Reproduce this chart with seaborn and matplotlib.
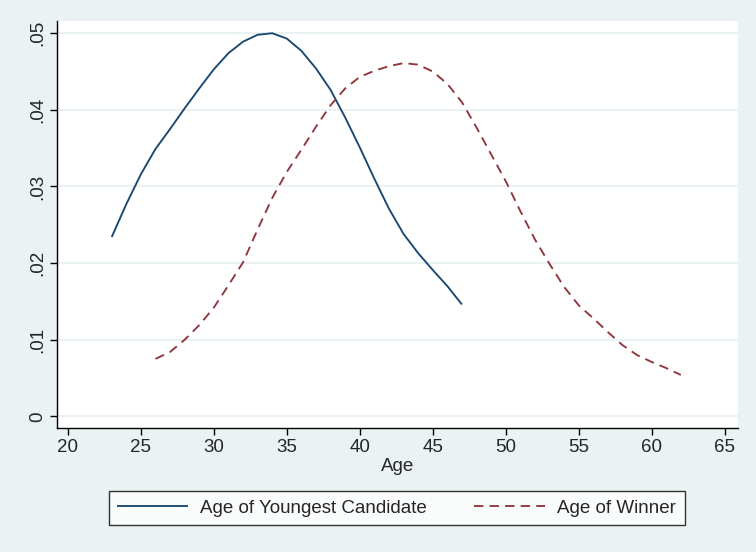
import numpy as np
import pandas as pd
import matplotlib
matplotlib.use("Agg")
import matplotlib.pyplot as plt
import seaborn as sns

# kernel density estimates
age_youngest = [23, 24, 25, 26, 27, 28, 29, 30, 31, 32, 33, 34, 35,
                36, 37, 38, 39, 40, 41, 42, 43, 44, 45, 46, 47]
dens_youngest = [.0234, .0277, .0316, .0349, .0375, .0402, .0428, .0453, .0474,
                 .0489, .0498, .0500, .0493, .0477, .0454, .0426, .0390, .0351,
                 .0310, .0271, .0238, .0213, .0191, .0170, .0146]

age_winner = [26, 27, 28, 29, 30, 31, 32, 33, 34, 35, 36, 37, 38, 39, 40, 41,
              42, 43, 44, 45, 46, 47, 48, 49, 50, 51, 52, 53, 54, 55, 56, 57,
              58, 59, 60, 61, 62]
dens_winner = [.0075, .0084, .0100, .0119, .0142, .0171, .0201, .0244, .0285,
               .0319, .0348, .0378, .0406, .0428, .0443, .0451, .0457, .0461,
               .0459, .0450, .0434, .0410, .0377, .0342, .0307, .0268, .0231,
               .0199, .0169, .0145, .0128, .0110, .0093, .0080, .0071, .0063,
               .0054]

x_ticks = [20, 25, 30, 35, 40, 45, 50, 55, 60, 65]
y_ticks = [0, .01, .02, .03, .04, .05]
y_labels = ["0", ".01", ".02", ".03", ".04", ".05"]

BG = "#EAF2F3"
NAVY = "#1A476F"
MAROON = "#90353B"

sns.set_style("white")
plt.rcParams["font.family"] = ["Liberation Sans", "DejaVu Sans"]

df = pd.concat([
    pd.DataFrame({"age": age_youngest, "density": dens_youngest,
                  "series": "Age of Youngest Candidate"}),
    pd.DataFrame({"age": age_winner, "density": dens_winner,
                  "series": "Age of Winner"}),
])

fig = plt.figure(figsize=(7.56, 5.52), dpi=100, facecolor=BG)
ax = fig.add_axes([0.0754, 0.224, 0.9004, 0.738])
ax.set_facecolor("white")

sns.lineplot(data=df, x="age", y="density", hue="series", style="series",
             palette=[NAVY, MAROON], dashes=[(1, 0), (5, 3.3)],
             linewidth=1.35, ax=ax)

ax.set_xlim(19.25, 65.9)
ax.set_ylim(-0.00157, 0.0516)
ax.set_xticks(x_ticks)
ax.set_yticks(y_ticks)
ax.set_yticklabels(y_labels, rotation=90, va="center")
ax.tick_params(axis="both", direction="out", length=5, width=1, color="black",
               labelsize=13.5, pad=3, bottom=True, left=True)
ax.grid(axis="y", color=BG, linewidth=1.5)
ax.grid(axis="x", visible=False)
for side in ["top", "right"]:
    ax.spines[side].set_visible(False)
for side in ["left", "bottom"]:
    ax.spines[side].set_color("black")
    ax.spines[side].set_linewidth(1.0)

ax.set_xlabel("Age", fontsize=13.5, labelpad=1)
ax.set_ylabel("")

handles, labels = ax.get_legend_handles_labels()
leg = ax.legend(handles, labels, loc="center", ncol=2,
                bbox_to_anchor=(0.5247, 0.0797), bbox_transform=fig.transFigure,
                fontsize=13.5, frameon=True, fancybox=False, edgecolor="black",
                handlelength=3.8, columnspacing=2.5, borderpad=0.45,
                borderaxespad=0.0, handletextpad=0.65)
leg.get_frame().set_linewidth(1.0)
leg.get_frame().set_facecolor("white")

fig.savefig("out.png", dpi=100, facecolor=BG)
